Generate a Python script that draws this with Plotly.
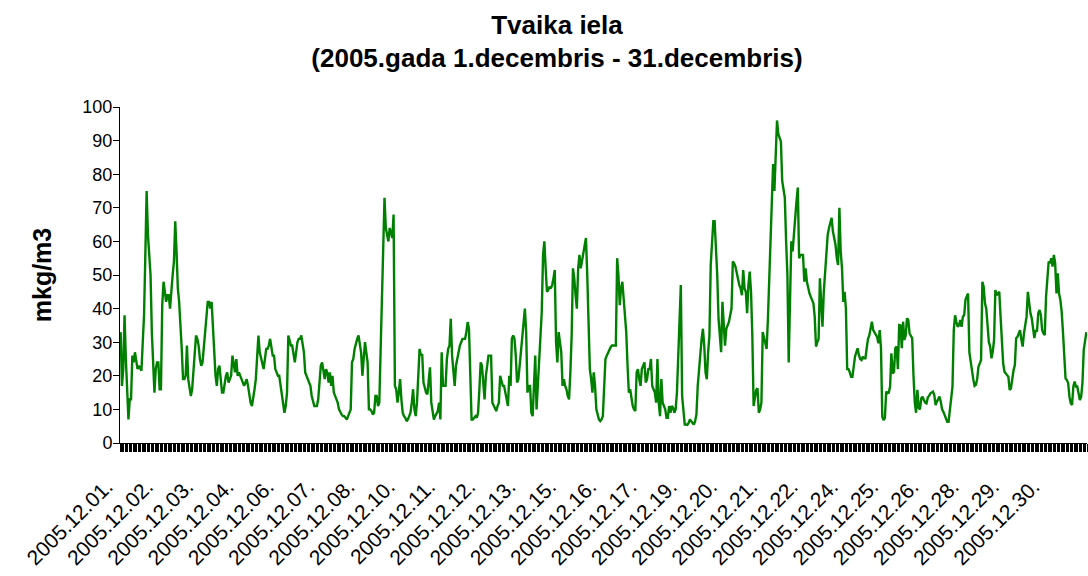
import plotly.graph_objects as go

# Hourly values, mkg/m3, 2005-12-01 .. 2005-12-31 (24 per day)
day01 = [33, 17, 22, 38, 25, 14, 7, 13, 13, 26, 24, 27, 24, 22, 23, 22, 21.5, 30, 38, 56, 75, 62, 57, 50]
day02 = [33, 22, 15, 22, 24, 24, 16, 16, 41, 48, 45, 42, 44, 44, 40, 46, 50, 54, 66, 57, 46, 42, 36, 28]
day03 = [19, 19, 20, 29, 19, 16, 14, 16, 22, 28, 32, 31, 29, 25, 23, 24, 28, 33, 37, 42, 42, 40, 42, 34]
day04 = [26, 20, 17, 22, 23, 19, 15, 15, 18, 20, 21, 18, 19, 20, 26, 23, 21, 25, 20, 21, 20, 19, 18, 17]
day05 = [18, 19, 17, 14, 12, 11, 13, 16, 19, 28, 32, 27, 25, 23, 22, 25, 28, 28, 29, 31, 28, 26, 26, 22]
day06 = [21, 20, 20, 17, 14, 12, 9, 11, 15, 32, 30, 29, 29, 27, 24, 27, 30, 31, 31, 32, 29, 27, 21, 20]
day07 = [19, 18, 17, 14, 12, 11, 11, 11, 13, 18, 23, 24, 22, 19, 22, 21, 18, 21, 17, 20, 15, 14, 13, 12]
day08 = [10, 9, 8.5, 8, 8, 7.5, 7, 8, 9, 10, 24, 25, 28, 30, 31, 32, 29, 27, 20, 26, 30, 27, 24, 10]
day09 = [10, 9.5, 8.5, 9, 14, 14, 11, 12, 27, 40, 57, 73, 64, 62, 60, 64, 62, 61, 68, 17, 16, 12, 15, 19]
day10 = [13, 9, 8, 7.5, 6.5, 7, 8, 9, 12, 16, 10, 8, 12, 20, 28, 26, 26.5, 18, 16, 15, 14.5, 18, 22.5, 12]
day11 = [9, 7, 8, 9, 9.5, 12, 7, 27, 17, 17, 17, 25, 28, 29, 37, 26, 21, 17, 23, 25, 28, 29, 30, 31]
day12 = [31, 31, 33, 36, 34, 20, 7, 7, 7.5, 8, 7.5, 9, 16, 24, 23, 18, 13, 20, 24, 26, 26, 26, 12, 11]
day13 = [10.5, 9.5, 11, 12, 20, 18, 17, 17, 15, 12, 11, 20, 17, 31, 32, 31, 26, 18, 19, 23, 27, 30, 35, 40]
day14 = [33, 15, 17, 17, 9, 8, 17, 26, 10, 18, 27, 34, 39, 56, 60, 52, 45, 45.5, 46.5, 46, 47, 49, 51.5, 30]
day15 = [24, 33, 29, 27, 17, 19, 17, 16, 14, 13, 21, 32, 52, 49, 44, 40, 52, 56, 52, 54, 56, 59, 61, 50]
day16 = [38, 22, 19, 15, 21, 17, 10, 8, 7, 6.5, 7, 8, 18, 25, 26, 27, 28, 28.5, 29, 29, 29, 29, 55, 50]
day17 = [41, 46, 48, 42, 37, 33, 23, 15, 16, 13, 11, 10, 9.5, 21, 22, 19, 17, 22, 23, 24, 18, 19, 22, 22]
day18 = [25, 17, 16, 15, 12, 25, 12, 8, 19, 12, 11, 10, 7.5, 7.5, 11, 9, 11, 10.5, 9, 10, 15, 25, 38, 47]
day19 = [14, 10, 5.5, 5.5, 5.4, 6, 7, 6.5, 6, 5.5, 6.5, 8.5, 17, 22, 27, 31, 34, 29, 21, 19, 27, 32, 53, 62]
day20 = [66, 66, 59, 50, 37, 31, 27, 42, 33, 29, 34, 35, 36, 38, 40, 54, 53.5, 52.5, 50.5, 48, 47, 46, 44, 51.5]
day21 = [46, 45, 38.6, 47, 51, 45, 32, 11, 14, 15.8, 16.3, 9, 10, 12, 33, 31, 30, 28, 37, 48, 57, 70, 83, 75]
day22 = [85, 96, 92, 91, 89.7, 78, 75, 73, 60, 50, 24, 47, 60, 57, 63, 67, 72, 76, 55, 56, 56, 56, 48, 52]
day23 = [48, 46, 44.5, 43.5, 42.5, 41.6, 37.6, 28.7, 30, 31, 49, 43, 34.6, 45, 51.5, 58.4, 62, 64, 66, 67, 63, 61, 59, 55]
day24 = [53, 70, 57, 52, 42, 45, 40, 22, 22, 21, 19.7, 19.7, 23.7, 25.7, 27, 28.2, 26.2, 25, 24.7, 25.7, 25.2, 25.2, 28.2, 31]
day25 = [32, 33.6, 36.1, 33.6, 33, 32.1, 31.6, 29.7, 33.6, 28.2, 7.8, 6.8, 7.5, 15.3, 14.8, 15, 16.8, 26.7, 20.7, 21.2, 28.2, 28.7, 22, 35.1]
day26 = [35, 28.2, 36.1, 30.7, 32, 37.1, 36.6, 32.6, 32, 31.2, 20, 12, 9, 15.8, 10.5, 10, 13.3, 13.8, 12.8, 12, 11.8, 13.5, 14, 14.8]
day27 = [15, 15.3, 14.3, 11.3, 12.3, 13, 13.8, 12.3, 10, 9.3, 8.3, 7, 6.3, 6.3, 10, 11.8, 16.8, 33.6, 38, 36, 34.6, 35, 36.6, 34.6]
day28 = [37.6, 38.1, 42.6, 43.6, 44.5, 27, 24, 21, 19, 17, 17.3, 19, 22.7, 23.7, 24.7, 48, 46.5, 41.6, 40, 35, 30, 28.7, 25.2, 27.2]
day29 = [30.7, 45.5, 44, 44.5, 45, 37.6, 30.7, 23.7, 21.2, 20.5, 20.2, 19.7, 15.8, 16.3, 19.7, 21.7, 23.2, 31.2, 31.6, 32.6, 33.6, 30.7, 28.7, 32.6]
day30 = [35.6, 37.6, 45, 40.6, 38.6, 37.1, 33.6, 31.2, 33.6, 33.1, 38.6, 39.6, 38.1, 33.6, 32.6, 32.1, 43.6, 49, 54, 53.5, 55, 52.5, 56, 53.5]
day31 = [44.5, 50.5, 44.5, 42.6, 39.1, 33.1, 26.2, 19.2, 18.8, 17.8, 13.8, 11.8, 11.3, 16.8, 18.3, 16.8, 16.8, 14.8, 12.8, 13.8, 17.8, 27.7, 30.7, 33]

days = [day01, day02, day03, day04, day05, day06, day07, day08, day09, day10,
        day11, day12, day13, day14, day15, day16, day17, day18, day19, day20,
        day21, day22, day23, day24, day25, day26, day27, day28, day29, day30, day31]

values = [v for d in days for v in d]
hours = list(range(len(values)))

tick_labels = ["2005.12.01.", "2005.12.02.", "2005.12.03.", "2005.12.04.", "2005.12.06.",
               "2005.12.07.", "2005.12.08.", "2005.12.10.", "2005.12.11.", "2005.12.12.",
               "2005.12.13.", "2005.12.15.", "2005.12.16.", "2005.12.17.", "2005.12.19.",
               "2005.12.20.", "2005.12.21.", "2005.12.22.", "2005.12.24.", "2005.12.25.",
               "2005.12.26.", "2005.12.28.", "2005.12.29.", "2005.12.30."]
label_every = 31
tick_positions = hours[::label_every][:len(tick_labels)]

FONT = "Arial, Liberation Sans, sans-serif"

fig = go.Figure()
fig.add_trace(go.Scatter(x=hours, y=values, mode="lines",
                         line=dict(color="#008000", width=2.4),
                         showlegend=False, hoverinfo="skip"))

fig.update_layout(
    width=1088, height=576,
    margin=dict(l=120, r=1, t=107, b=133),
    paper_bgcolor="white", plot_bgcolor="white",
    font=dict(family=FONT, color="black", size=18),
    title=dict(text="<b>Tvaika iela<br>(2005.gada 1.decembris - 31.decembris)</b>",
               x=557 / 1088, xanchor="center", xref="container",
               y=1 - 33.6 / 576, yanchor="top", yref="container",
               font=dict(family=FONT, size=26, color="black")),
)

fig.update_xaxes(
    range=[-0.5, len(values) - 0.5], automargin=False,
    tickmode="array", tickvals=tick_positions, ticktext=tick_labels,
    tickangle=-45, ticks="", showgrid=False, zeroline=False,
    showline=True, linecolor="black", linewidth=1,
    tickfont=dict(family=FONT, size=21, color="black"),
    ticklabelstandoff=22, ticklabelshift=-14,
    minor=dict(ticks="outside", tick0=0.5, dtick=1, ticklen=8,
               tickcolor="black", tickwidth=1, showgrid=False),
)

fig.update_yaxes(
    range=[0, 100], dtick=10, tick0=0, automargin=False,
    ticks="outside", ticklen=6, tickcolor="black",
    showgrid=False, zeroline=False,
    showline=True, linecolor="black", linewidth=1,
    tickfont=dict(family=FONT, size=18, color="black"),
    ticklabelstandoff=-3,
    title=dict(text="<b>mkg/m3</b>", font=dict(family=FONT, size=25, color="black"),
               standoff=23),
)

fig.write_html("out.html", config={"displayModeBar": False, "staticPlot": True},
               post_script="document.body.style.margin = '0';")
